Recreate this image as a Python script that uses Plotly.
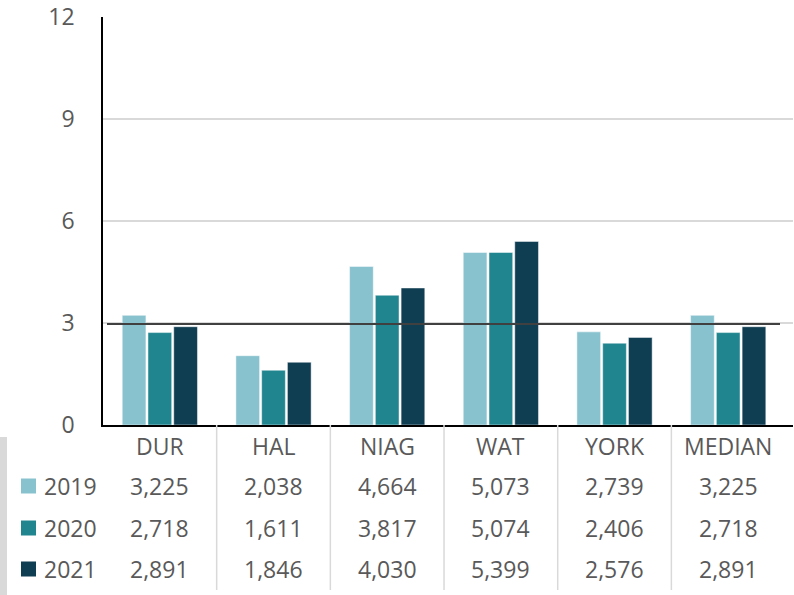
import plotly.graph_objects as go

categories = ["DUR", "HAL", "NIAG", "WAT", "YORK", "MEDIAN"]
years = ["2019", "2020", "2021"]
values_2019 = [3225, 2038, 4664, 5073, 2739, 3225]
values_2020 = [2718, 1611, 3817, 5074, 2406, 2718]
values_2021 = [2891, 1846, 4030, 5399, 2576, 2891]
reference_line = 2.97
y_ticks = [0, 3, 6, 9, 12]

colors = ["#88C2CE", "#218590", "#0F3D52"]
series = [values_2019, values_2020, values_2021]

FONT = "Open Sans"
TXT = "#595959"
W, H = 794, 595
L, R, T, B = 103, 1, 17, 170
PH = H - T - B  # 408
PW = W - L - R
YMAX = 12


def yp(px):
    """pixel row -> paper y"""
    return (H - B - px) / PH


def xp(px):
    """pixel column -> paper x"""
    return (px - L) / PW


fig = go.Figure()
for yr, vals, c in zip(years, series, colors):
    fig.add_trace(go.Bar(
        x=categories, y=[v / 1000 for v in vals], name=yr,
        marker=dict(color=c, line=dict(color="rgba(255,255,255,0.6)", width=0.8)),
        showlegend=False, hoverinfo="skip",
    ))

shapes = []
shapes.append(dict(type="line", xref="paper", yref="y", x0=xp(107), x1=xp(780),
                   y0=reference_line, y1=reference_line,
                   line=dict(color="#404040", width=2)))
for i in range(len(categories) - 1):
    shapes.append(dict(type="line", xref="x", yref="paper", x0=i + 0.5, x1=i + 0.5,
                       y0=0, y1=yp(590), line=dict(color="#D9D9D9", width=1.5)))
shapes.append(dict(type="rect", xref="paper", yref="paper", x0=xp(0), x1=xp(7),
                   y0=yp(437), y1=yp(595), fillcolor="#D9D9D9", line=dict(width=0)))

annotations = []
row_px = [486, 528, 569]
header_px = 446
for cat in categories:
    annotations.append(dict(x=cat, y=yp(header_px), xref="x", yref="paper", text=cat,
                            showarrow=False, font=dict(family=FONT, size=23, color=TXT),
                            xanchor="center", yanchor="middle"))
for r, (yr, vals, c) in enumerate(zip(years, series, colors)):
    yv = yp(row_px[r])
    shapes.append(dict(type="rect", xref="paper", yref="paper", x0=xp(21), x1=xp(36),
                       y0=yv - 7.5 / PH, y1=yv + 7.5 / PH, fillcolor=c, line=dict(width=0)))
    annotations.append(dict(x=xp(42), y=yv, xref="paper", yref="paper", text=yr,
                            showarrow=False, font=dict(family=FONT, size=23, color=TXT),
                            xanchor="left", yanchor="middle"))
    for cat, v in zip(categories, vals):
        annotations.append(dict(x=cat, y=yv, xref="x", yref="paper", text=f"{v:,}",
                                showarrow=False, font=dict(family=FONT, size=23, color=TXT),
                                xanchor="center", yanchor="middle"))

fig.update_layout(
    width=W, height=H,
    margin=dict(l=L, r=R, t=T, b=B, pad=0),
    paper_bgcolor="white", plot_bgcolor="white",
    barmode="group", bargap=0.32, bargroupgap=0.08,
    font=dict(family=FONT, size=23, color=TXT),
    shapes=shapes, annotations=annotations,
    xaxis=dict(range=[-0.5, 5.57], showticklabels=False, showgrid=False,
               showline=True, linecolor="#000000", linewidth=1.5, ticks="", zeroline=False),
    yaxis=dict(range=[0, YMAX], tickvals=y_ticks, showgrid=True, gridcolor="#D9D9D9",
               gridwidth=1.5, showline=True, linecolor="#000000", linewidth=1.5,
               zeroline=False, ticks="", ticklabelstandoff=22,
               tickfont=dict(family=FONT, size=23, color=TXT)),
)

fig.write_html("out.html", config={"displayModeBar": False},
               post_script="document.body.style.margin='0px';document.body.style.overflow='hidden';")
